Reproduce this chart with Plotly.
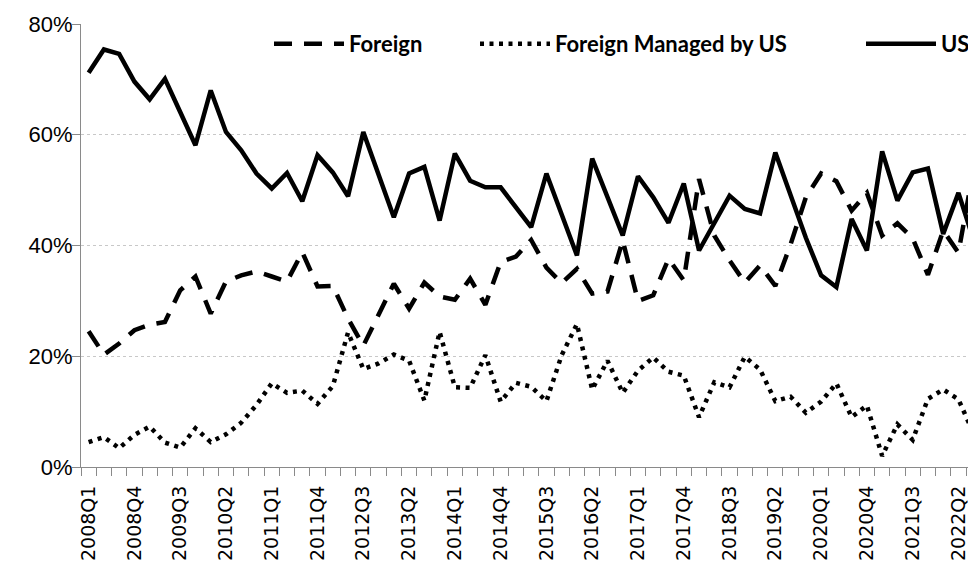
import plotly.graph_objects as go

quarters = [
    "2008Q1", "2008Q2", "2008Q3", "2008Q4", "2009Q1", "2009Q2", "2009Q3", "2009Q4",
    "2010Q1", "2010Q2", "2010Q3", "2010Q4", "2011Q1", "2011Q2", "2011Q3", "2011Q4",
    "2012Q1", "2012Q2", "2012Q3", "2012Q4", "2013Q1", "2013Q2", "2013Q3", "2013Q4",
    "2014Q1", "2014Q2", "2014Q3", "2014Q4", "2015Q1", "2015Q2", "2015Q3", "2015Q4",
    "2016Q1", "2016Q2", "2016Q3", "2016Q4", "2017Q1", "2017Q2", "2017Q3", "2017Q4",
    "2018Q1", "2018Q2", "2018Q3", "2018Q4", "2019Q1", "2019Q2", "2019Q3", "2019Q4",
    "2020Q1", "2020Q2", "2020Q3", "2020Q4", "2021Q1", "2021Q2", "2021Q3", "2021Q4",
    "2022Q1", "2022Q2", "2022Q3",
]

foreign = [
    24.5, 20.3, 22.3, 24.7, 25.7, 26.2, 31.9, 34.4, 27.7, 33.5,
    34.6, 35.3, 34.4, 33.5, 38.8, 32.6, 32.7, 26.8, 21.9, 27.5,
    33.1, 28.6, 33.3, 30.8, 30.2, 34.0, 29.3, 37.0, 38.0, 41.0,
    36.0, 33.2, 35.8, 31.3, 31.7, 40.9, 30.0, 31.0, 37.6, 33.7,
    52.0, 41.8, 37.3, 33.3, 36.4, 32.7, 40.2, 48.7, 53.0, 51.6,
    46.3, 49.5, 41.8, 44.0, 41.3, 34.7, 42.7, 38.7, 54.0,
]

foreign_managed_by_us = [
    4.5, 5.4, 3.4, 5.8, 7.3, 4.4, 3.5, 7.0, 4.5, 5.9,
    8.0, 11.2, 15.1, 13.4, 13.8, 11.4, 14.6, 24.3, 17.7, 18.7,
    20.3, 19.2, 12.0, 24.4, 14.4, 14.3, 20.2, 11.8, 15.2, 14.5,
    11.9, 20.2, 25.8, 14.0, 19.2, 13.4, 17.4, 19.8, 17.2, 16.5,
    9.0, 15.3, 14.4, 19.9, 17.6, 11.9, 12.7, 9.8, 11.8, 15.1,
    9.0, 11.1, 2.0, 7.7, 4.9, 12.3, 14.0, 12.2, 6.0,
]

us = [
    71.2, 75.4, 74.6, 69.6, 66.4, 70.1, 64.1, 58.1, 68.0, 60.5,
    57.2, 53.0, 50.3, 53.1, 48.0, 56.3, 53.2, 48.9, 60.5, 52.8,
    45.1, 53.0, 54.2, 44.5, 56.6, 51.7, 50.5, 50.5, 46.8, 43.3,
    53.0, 45.6, 38.2, 55.7, 48.6, 41.8, 52.5, 48.7, 44.1, 51.2,
    39.1, 44.1, 49.0, 46.6, 45.8, 56.8, 49.2, 41.4, 34.6, 32.5,
    44.8, 39.1, 57.0, 48.1, 53.2, 53.9, 42.1, 49.5, 40.9,
]

y_ticks = [0, 20, 40, 60, 80]
x_label_step = 3

# The page body adds an 8px margin, so figure coords = page coords - 8
OFF = 8
W, H = 976, 567
ML = 81 - OFF            # plot left edge
MT = 24 - OFF            # plot top edge (80%)
PB = 467 - OFF           # plot bottom edge (0%)
MB = H - PB
plot_w = W - ML
plot_h = PB - MT
px_per_q = 15.26


def lx(page_px):
    return (page_px - OFF - ML) / plot_w


def ly(page_py):
    return 1 - (page_py - OFF - MT) / plot_h


legend_font = dict(family="Lato", size=22, color="black", weight="bold")
idx = list(range(len(quarters)))
fig = go.Figure()
fig.add_trace(go.Scatter(
    x=idx, y=[v / 100 for v in foreign], name="Foreign", mode="lines",
    line=dict(color="black", width=4.5, dash="18px,12px"), legend="legend",
))
fig.add_trace(go.Scatter(
    x=idx, y=[v / 100 for v in foreign_managed_by_us], name="Foreign Managed by US",
    mode="lines", line=dict(color="black", width=4.5, dash="4px,5.5px"),
    legend="legend2",
))
fig.add_trace(go.Scatter(
    x=idx, y=[v / 100 for v in us], name="US", mode="lines",
    line=dict(color="black", width=4.5), legend="legend3",
))

TEXT_OFF = 81  # legend x -> text start, with itemwidth=70
common_leg = dict(orientation="h", yanchor="middle", y=ly(44), xanchor="left",
                  font=legend_font, bgcolor="rgba(0,0,0,0)", itemwidth=70,
                  borderwidth=0)
fig.update_layout(
    width=W, height=H,
    margin=dict(l=ML, r=0, t=MT, b=MB),
    paper_bgcolor="white", plot_bgcolor="white",
    showlegend=True,
    legend=dict(x=lx(350 - TEXT_OFF), **common_leg),
    legend2=dict(x=lx(556 - TEXT_OFF), **common_leg),
    legend3=dict(x=lx(942 - TEXT_OFF), **common_leg),
    xaxis=dict(
        range=[-0.5, -0.5 + plot_w / px_per_q],
        automargin=False,
        tickmode="array",
        tickvals=idx[::x_label_step],
        ticktext=quarters[::x_label_step],
        tickangle=-90,
        ticks="",
        ticklabelstandoff=10,
        showgrid=False, zeroline=False,
        showline=True, linecolor="#8a8a8a", linewidth=1,
        tickfont=dict(family="DejaVu Sans", size=19, color="black"),
        minor=dict(tick0=-0.5, dtick=1, ticks="outside", ticklen=8,
                   tickcolor="#8a8a8a", showgrid=False),
    ),
    yaxis=dict(
        range=[0, 0.8],
        automargin=False,
        tickmode="array",
        tickvals=[v / 100 for v in y_ticks],
        ticktext=[f"{v}%" for v in y_ticks],
        ticks="outside", ticklen=8, tickcolor="#8a8a8a",
        ticklabelstandoff=-5,
        showgrid=True, gridcolor="#c8c8c8", griddash="dot", gridwidth=1,
        zeroline=False,
        showline=True, linecolor="#8a8a8a", linewidth=1,
        tickfont=dict(family="Liberation Sans", size=22, color="black"),
    ),
)

fig.write_html("out.html")
